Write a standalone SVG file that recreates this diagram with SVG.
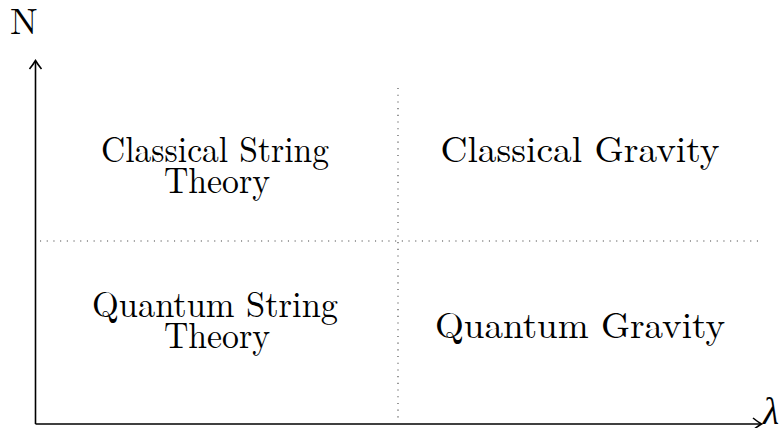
<svg xmlns="http://www.w3.org/2000/svg" width="782" height="428" viewBox="0 0 782 428">
<style>
.t{font-family:"Latin Modern Roman","CMU Serif","Liberation Serif","DejaVu Serif",serif;font-size:37px;fill:#000}
.ax{stroke:#000;stroke-width:1.6;fill:none}
.dot{stroke:#444;stroke-width:1.1;stroke-dasharray:1.1 5.6;fill:none}
</style>
<rect width="782" height="428" fill="#fff"/>
<g id="connectors">
<line class="dot" x1="40" y1="241" x2="758" y2="241"/>
<line class="dot" x1="398" y1="88" x2="398" y2="420"/>
<path class="ax" d="M35.5,424 L35.5,61"/>
<path class="ax" d="M29.5,69 Q33.5,64 35.5,60.5 Q37.5,64 41.5,69"/>
<path class="ax" d="M35.5,424 L761,424"/>
<path class="ax" d="M753,418 Q758,422 761.5,424 Q758,426 753,430"/>
</g>
<g id="axis-n"><text class="t" x="10" y="34">N</text></g>
<g id="axis-lambda"><text class="t" x="763" y="424" font-style="italic">λ</text></g>
<g id="classical-string">
<text class="t" x="215" y="162" text-anchor="middle" textLength="228" lengthAdjust="spacingAndGlyphs">Classical String</text>
<text class="t" x="217" y="193" text-anchor="middle" textLength="106" lengthAdjust="spacingAndGlyphs">Theory</text>
</g>
<g id="classical-gravity">
<text class="t" x="580" y="162" text-anchor="middle" textLength="279" lengthAdjust="spacingAndGlyphs">Classical Gravity</text>
</g>
<g id="quantum-string">
<text class="t" x="215" y="317" text-anchor="middle" textLength="246" lengthAdjust="spacingAndGlyphs">Quantum String</text>
<text class="t" x="217" y="348" text-anchor="middle" textLength="106" lengthAdjust="spacingAndGlyphs">Theory</text>
</g>
<g id="quantum-gravity">
<text class="t" x="580" y="338" text-anchor="middle" textLength="290" lengthAdjust="spacingAndGlyphs">Quantum Gravity</text>
</g>
</svg>
